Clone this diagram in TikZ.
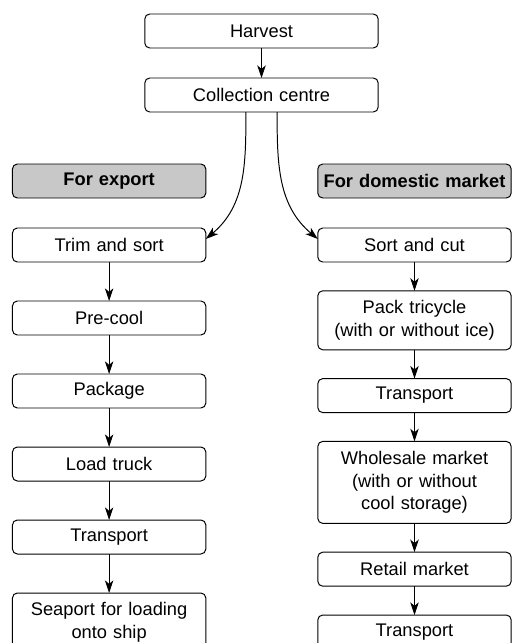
\documentclass[tikz,border=0pt]{standalone}
\usepackage{fontspec}
\setmainfont{Liberation Sans}
\usepackage{tikz}
\usetikzlibrary{arrows, arrows.meta, positioning}
\definecolor{headgray}{RGB}{200,200,200}
\tikzstyle{block} = [rectangle, draw, line width=0.7pt, font=\fontsize{13}{16}\selectfont,
    text width=4.6cm, text centered, rounded corners=3.5pt, minimum height=0.85cm,
    inner ysep=2pt, outer sep=0pt]
\tikzstyle{wide} = [block, text width=5.6cm]
\tikzstyle{head} = [block, fill=headgray, font=\fontsize{13}{16}\selectfont\bfseries]
\tikzstyle{line} = [draw, line width=0.7pt, -{Stealth[length=9pt, width=6pt, inset=2.5pt]}]

\begin{document}
\begin{tikzpicture}[]
        \clip (0,0) rectangle (12.8,-16.075);
        % Place nodes
        \node [wide] (HRV) at (6.5375,-0.775) {Harvest};
        \node [wide] (CC) [below =0.75cm of HRV] {Collection centre};
        \node [head] (EXP) [below left =1.3cm and -1.525cm of CC] {For export};
        \node [head] (DOM) [right =2.8cm of EXP] {For domestic market};
        % export side
        \node [block] (TRIM) [below =0.75cm of EXP] {Trim and sort};
        \node [block] (COOL) [below =0.975cm of TRIM] {Pre-cool};
        \node [block] (PACK) [below =0.975cm of COOL] {Package};
        \node [block] (LOAD) [below =0.975cm of PACK] {Load truck};
        \node [block] (TRE) [below =0.975cm of LOAD] {Transport};
        \node [block, minimum height=1.475cm] (PORT) [below =0.975cm of TRE] {Seaport for loading\\onto ship};
        % domestic side
        \node [block] (SORT) [below =0.75cm of DOM] {Sort and cut};
        \node [block, minimum height=1.475cm] (TRIC) [below =0.72cm of SORT] {Pack tricycle\\(with or without ice)};
        \node [block] (TRD) [below =0.72cm of TRIC] {Transport};
        \node [block, minimum height=2.05cm] (WHOL) [below =0.72cm of TRD] {Wholesale market\\(with or without\\cool storage)};
        \node [block] (RET) [below =0.72cm of WHOL] {Retail market};
        \node [block] (TRD2) [below =0.72cm of RET] {Transport};
        % Draw edges
        \path [line] (HRV) -- (CC);
        \path [line] ([xshift=-0.39cm]CC.south) to[out=-90, in=40] ([yshift=0.15cm]TRIM.east);
        \path [line] ([xshift=0.39cm]CC.south) to[out=-90, in=140] ([yshift=0.15cm]SORT.west);
        \path [line] (TRIM) -- (COOL);
        \path [line] (COOL) -- (PACK);
        \path [line] (PACK) -- (LOAD);
        \path [line] (LOAD) -- (TRE);
        \path [line] (TRE) -- (PORT);
        \path [line] (SORT) -- (TRIC);
        \path [line] (TRIC) -- (TRD);
        \path [line] (TRD) -- (WHOL);
        \path [line] (WHOL) -- (RET);
        \path [line] (RET) -- (TRD2);
    \end{tikzpicture}
\end{document}
